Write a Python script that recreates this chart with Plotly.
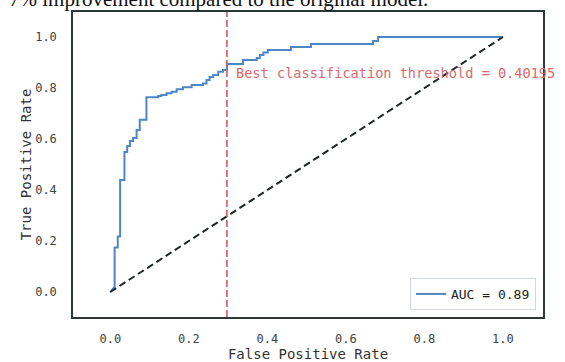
import plotly.graph_objects as go

# ROC curve (step points)
fpr = [0.0, 0.011, 0.011, 0.019, 0.019, 0.025, 0.025, 0.036, 0.036, 0.043, 0.043,
       0.050, 0.050, 0.058, 0.058, 0.067, 0.067, 0.075, 0.075, 0.092, 0.092,
       0.122, 0.122, 0.130, 0.130, 0.143, 0.143, 0.156, 0.156, 0.169, 0.169,
       0.185, 0.185, 0.207, 0.207, 0.236, 0.236, 0.245, 0.245, 0.253, 0.253,
       0.262, 0.262, 0.275, 0.275, 0.287, 0.287, 0.297, 0.297, 0.338, 0.338,
       0.373, 0.373, 0.381, 0.381, 0.390, 0.390, 0.401, 0.401, 0.460, 0.460,
       0.511, 0.511, 0.669, 0.669, 0.682, 0.682, 1.0]
tpr = [0.0, 0.021, 0.175, 0.175, 0.218, 0.218, 0.439, 0.439, 0.549, 0.549, 0.573,
       0.573, 0.592, 0.592, 0.604, 0.604, 0.635, 0.635, 0.675, 0.675, 0.764,
       0.764, 0.769, 0.769, 0.773, 0.773, 0.779, 0.779, 0.785, 0.785, 0.795,
       0.795, 0.803, 0.803, 0.812, 0.812, 0.818, 0.818, 0.831, 0.831, 0.843,
       0.843, 0.851, 0.851, 0.864, 0.864, 0.871, 0.871, 0.894, 0.894, 0.910,
       0.910, 0.918, 0.918, 0.929, 0.929, 0.939, 0.939, 0.949, 0.949, 0.961,
       0.961, 0.973, 0.973, 0.984, 0.984, 1.0, 1.0]
diag_x = [0.0, 1.0]
diag_y = [0.0, 1.0]
auc_value = 0.89
best_fpr = 0.297
best_threshold = 0.40195
tick_vals = [0.0, 0.2, 0.4, 0.6, 0.8, 1.0]
tick_text = ["0.0", "0.2", "0.4", "0.6", "0.8", "1.0"]

mono = "DejaVu Sans Mono, Liberation Mono, monospace"

fig = go.Figure()
fig.add_trace(go.Scatter(x=fpr, y=tpr, mode="lines",
                         line=dict(color="#4f86c6", width=2),
                         name="AUC = %.2f" % auc_value))
fig.add_trace(go.Scatter(x=diag_x, y=diag_y, mode="lines",
                         line=dict(color="#1c2626", width=2, dash="7px,4px"),
                         showlegend=False))

fig.add_shape(type="line", xref="x", yref="paper", x0=best_fpr, x1=best_fpr,
              y0=0, y1=1, line=dict(color="#d35a5c", width=1.6, dash="7px,3px"))

fig.add_annotation(x=best_fpr + 0.018, y=0.859, xref="x", yref="y",
                   text="Best classification threshold = %s" % best_threshold,
                   showarrow=False, xanchor="left", yanchor="middle",
                   font=dict(family=mono, size=13.6, color="#d86a6c"))

# cropped caption text of the scanned page at the very top
fig.add_annotation(x=-0.14, y=1, xref="paper", yref="paper",
                   text="7% improvement compared to the original model.",
                   showarrow=False, xanchor="left", yanchor="bottom", yshift=-1,
                   font=dict(family="Liberation Serif, Times New Roman, serif", size=21, color="#111"))

axis_common = dict(
    showgrid=False, zeroline=False, showline=True, mirror=True,
    linecolor="#2f3838", linewidth=1.5, ticks="", automargin=False,
    tickvals=tick_vals, ticktext=tick_text,
    tickfont=dict(family=mono, size=12, color="#3a4444"),
)

fig.update_xaxes(range=[-0.095, 1.102], title=dict(text="False Positive Rate",
                 font=dict(family=mono, size=14, color="#333"), standoff=2),
                 ticklabelstandoff=10, **axis_common)
fig.update_yaxes(range=[-0.098, 1.098], title=dict(text="True Positive Rate",
                 font=dict(family=mono, size=14, color="#333"), standoff=0),
                 ticklabelstandoff=12, **axis_common)

fig.update_layout(
    width=565, height=362,
    margin=dict(l=73, r=22, t=12, b=45),
    paper_bgcolor="white", plot_bgcolor="white",
    legend=dict(x=0.985, y=0.023, xanchor="right", yanchor="bottom",
                bgcolor="rgba(255,255,255,0.9)", bordercolor="#cfd8e0", borderwidth=1,
                font=dict(family=mono, size=13, color="#222"),
                itemwidth=30),
    showlegend=True,
)

fig.write_html("out.html", config={"displayModeBar": False},
               post_script="document.body.style.margin='0';document.body.style.overflow='hidden';")
